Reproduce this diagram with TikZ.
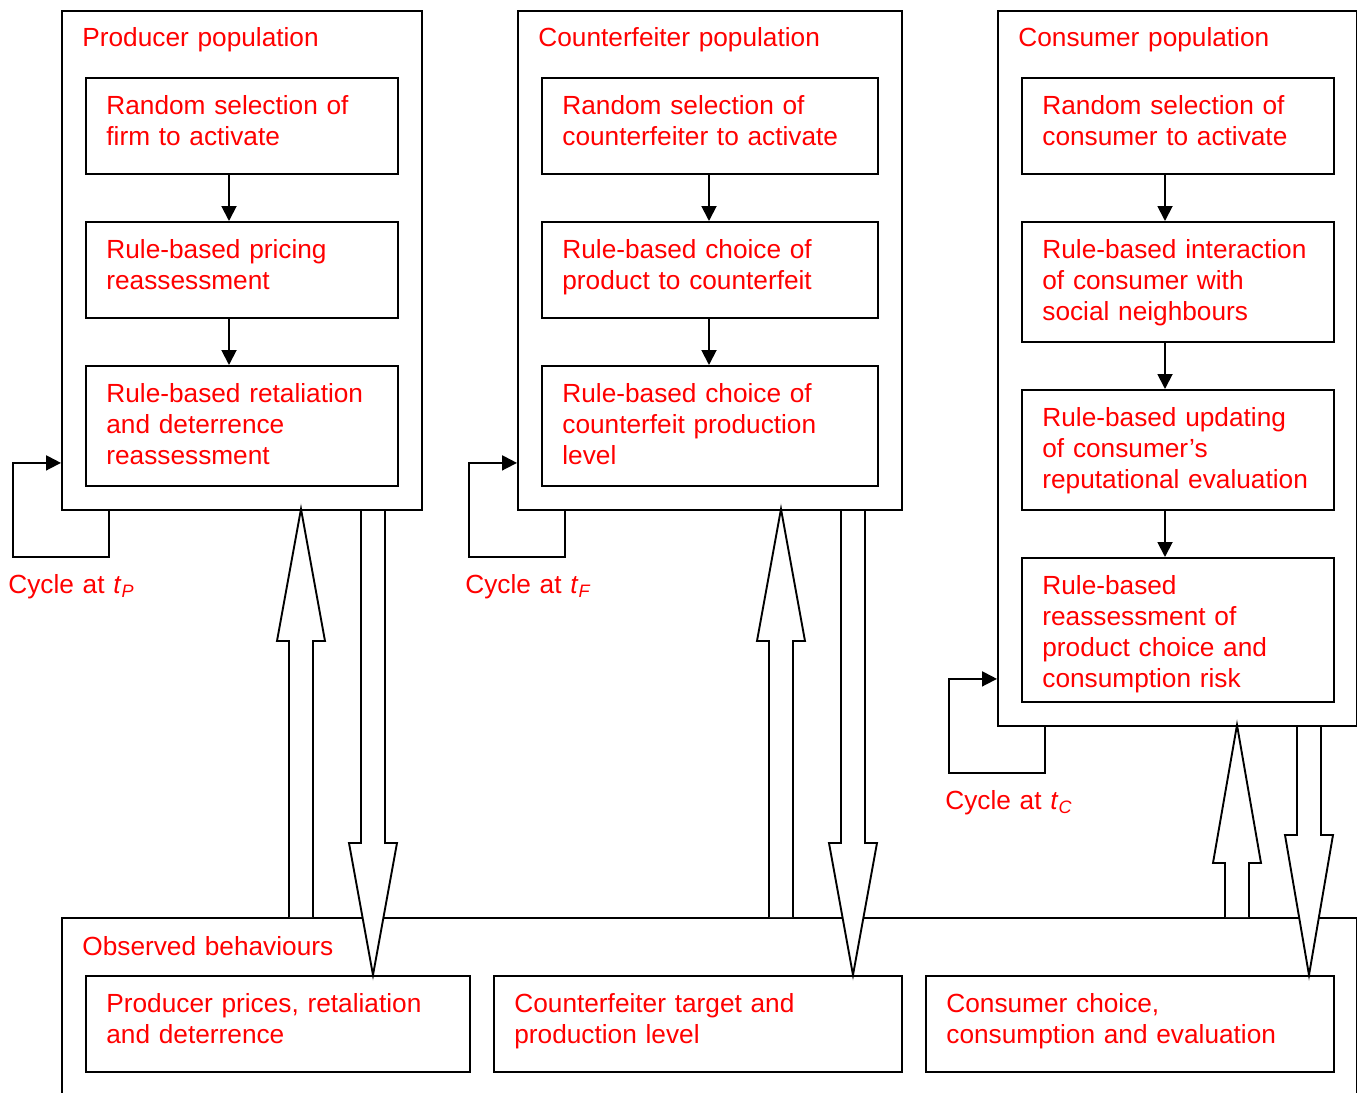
\documentclass[tikz,border=0pt]{standalone}
\usepackage{fontspec}
\setmainfont{Liberation Sans}
\usetikzlibrary{arrows.meta,calc}
\definecolor{lbl}{RGB}{255,0,0}
\newcommand{\cyc}[1]{Cycle at \textit{t}\raisebox{-0.35ex}{\fontsize{9}{9}\selectfont\textit{#1}}}
\begin{document}
\begin{tikzpicture}[x=0.5pt,y=-0.5pt,
 lw/.style={line width=0.95pt},
 box/.style={draw,lw,fill=white,inner sep=0,anchor=north west},
 obox/.style={draw,lw,inner sep=0,anchor=north west},
 txt/.style={text=lbl,font=\fontsize{13.12}{15.5}\selectfont,text width=230pt,align=left,inner sep=0,anchor=base west},
 arr/.style={lw,-{Triangle[length=7.5pt,width=7.5pt]}},
 blk/.style={lw,fill=white,line join=miter}]
\useasboundingbox (0,0) rectangle (1357,1093);

% bottom box
\node[box,minimum width=647.5pt,minimum height=120pt] (O) at (61,917) {};
\node[txt] (Ot) at ([xshift=10.5pt,yshift=-19pt]O.north west) {Observed behaviours};
\node[box,minimum width=192pt,minimum height=48pt] (B1) at (85,975) {};
\node[box,minimum width=204pt,minimum height=48pt] (B2) at (493,975) {};
\node[box,minimum width=204pt,minimum height=48pt] (B3) at (925,975) {};
\node[txt] (B1t) at ([xshift=10.5pt,yshift=-18.5pt]B1.north west) {Producer prices, retaliation\\and deterrence};
\node[txt] (B2t) at ([xshift=10.5pt,yshift=-18.5pt]B2.north west) {Counterfeiter target and\\production level};
\node[txt] (B3t) at ([xshift=10.5pt,yshift=-18.5pt]B3.north west) {Consumer choice,\\consumption and evaluation};

% block arrows
\draw[blk] (289,917) -- (289,641) -- (277,641) -- (301,509) -- (325,641) -- (313,641) -- (313,917);
\draw[blk] (361,509) -- (361,843) -- (349,843) -- (373,975) -- (397,843) -- (385,843) -- (385,509);
\draw[blk] (769,917) -- (769,641) -- (757,641) -- (781,509) -- (805,641) -- (793,641) -- (793,917);
\draw[blk] (841,509) -- (841,843) -- (829,843) -- (853,975) -- (877,843) -- (865,843) -- (865,509);
\draw[blk] (1225,917) -- (1225,863) -- (1213,863) -- (1237,725) -- (1261,863) -- (1249,863) -- (1249,917);
\draw[blk] (1297,725) -- (1297,835) -- (1285,835) -- (1309,975) -- (1333,835) -- (1321,835) -- (1321,725);

% population boxes
\node[obox,minimum width=180pt,minimum height=249.5pt] (P) at (61,10) {};
\node[obox,minimum width=192pt,minimum height=249.5pt] (F) at (517,10) {};
\node[obox,minimum width=179.5pt,minimum height=357.5pt] (C) at (997,10) {};
\node[txt] (Pt) at ([xshift=10.5pt,yshift=-18pt]P.north west) {Producer population};
\node[txt] (Ft) at ([xshift=10.5pt,yshift=-18pt]F.north west) {Counterfeiter population};
\node[txt] (Ct) at ([xshift=10.5pt,yshift=-18pt]C.north west) {Consumer population};

% producer
\node[box,minimum width=156pt,minimum height=48pt] (P1) at (85,77) {};
\node[box,minimum width=156pt,minimum height=48pt] (P2) at (85,221) {};
\node[box,minimum width=156pt,minimum height=60pt] (P3) at (85,365) {};
\node[txt] (P1t) at ([xshift=10.5pt,yshift=-18.5pt]P1.north west) {Random selection of\\firm to activate};
\node[txt] (P2t) at ([xshift=10.5pt,yshift=-18.5pt]P2.north west) {Rule-based pricing\\reassessment};
\node[txt] (P3t) at ([xshift=10.5pt,yshift=-18.5pt]P3.north west) {Rule-based retaliation\\and deterrence\\reassessment};
\draw[arr] ([xshift=72pt]P1.south west) -- ([xshift=72pt]P2.north west);
\draw[arr] ([xshift=72pt]P2.south west) -- ([xshift=72pt]P3.north west);

% counterfeiter
\node[box,minimum width=168pt,minimum height=48pt] (F1) at (541,77) {};
\node[box,minimum width=168pt,minimum height=48pt] (F2) at (541,221) {};
\node[box,minimum width=168pt,minimum height=60pt] (F3) at (541,365) {};
\node[txt] (F1t) at ([xshift=10.5pt,yshift=-18.5pt]F1.north west) {Random selection of\\counterfeiter to activate};
\node[txt] (F2t) at ([xshift=10.5pt,yshift=-18.5pt]F2.north west) {Rule-based choice of\\product to counterfeit};
\node[txt] (F3t) at ([xshift=10.5pt,yshift=-18.5pt]F3.north west) {Rule-based choice of\\counterfeit production\\level};
\draw[arr] ([xshift=84pt]F1.south west) -- ([xshift=84pt]F2.north west);
\draw[arr] ([xshift=84pt]F2.south west) -- ([xshift=84pt]F3.north west);

% consumer
\node[box,minimum width=156pt,minimum height=48pt] (C1) at (1021,77) {};
\node[box,minimum width=156pt,minimum height=60pt] (C2) at (1021,221) {};
\node[box,minimum width=156pt,minimum height=60pt] (C3) at (1021,389) {};
\node[box,minimum width=156pt,minimum height=72pt] (C4) at (1021,557) {};
\node[txt] (C1t) at ([xshift=10.5pt,yshift=-18.5pt]C1.north west) {Random selection of\\consumer to activate};
\node[txt] (C2t) at ([xshift=10.5pt,yshift=-18.5pt]C2.north west) {Rule-based interaction\\of consumer with\\social neighbours};
\node[txt] (C3t) at ([xshift=10.5pt,yshift=-18.5pt]C3.north west) {Rule-based updating\\of consumer’s\\reputational evaluation};
\node[txt] (C4t) at ([xshift=10.5pt,yshift=-18.5pt]C4.north west) {Rule-based\\reassessment of\\product choice and\\consumption risk};
\draw[arr] ([xshift=72pt]C1.south west) -- ([xshift=72pt]C2.north west);
\draw[arr] ([xshift=72pt]C2.south west) -- ([xshift=72pt]C3.north west);
\draw[arr] ([xshift=72pt]C3.south west) -- ([xshift=72pt]C4.north west);

% cycles
\coordinate (Pc) at (13,557);
\coordinate (Fc) at (469,557);
\coordinate (Cc) at (949,773);
\draw[arr] ([xshift=24pt]P.south west) |- (Pc) |- ([yshift=24pt]P.south west);
\draw[arr] ([xshift=24pt]F.south west) |- (Fc) |- ([yshift=24pt]F.south west);
\draw[arr] ([xshift=24pt]C.south west) |- (Cc) |- ([yshift=24pt]C.south west);
\node[txt] (Pl) at (8,593) {\cyc{P}};
\node[txt] (Fl) at (465,593) {\cyc{F}};
\node[txt] (Cl) at (945,809) {\cyc{C}};
\end{tikzpicture}
\end{document}
